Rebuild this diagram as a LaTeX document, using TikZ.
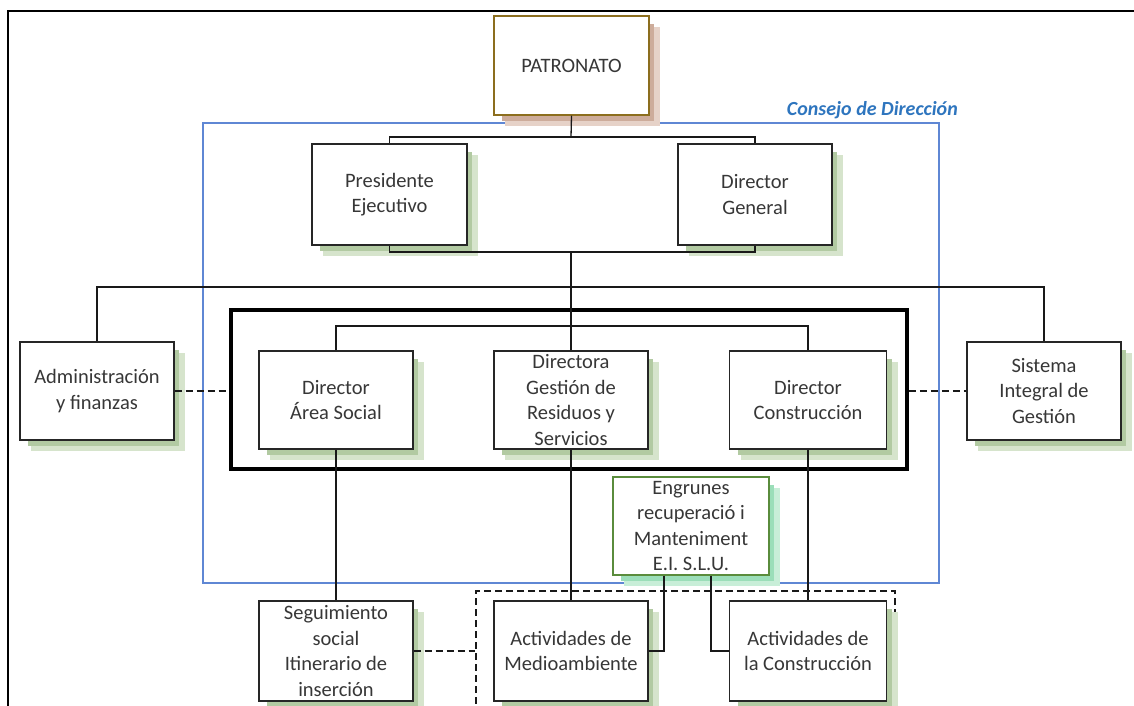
\documentclass[tikz,border=0pt]{standalone}
\usepackage{fontspec}
\setmainfont{Carlito}
\usetikzlibrary{shadows}
\definecolor{txt}{RGB}{55,55,55}
\definecolor{shg}{RGB}{178,202,162}
\definecolor{shgl}{RGB}{214,228,204}
\definecolor{shb}{RGB}{205,172,155}
\definecolor{shbl}{RGB}{230,210,200}
\definecolor{sht}{RGB}{155,222,185}
\definecolor{shtl}{RGB}{200,238,216}
\definecolor{cblue}{RGB}{95,135,212}
\definecolor{lblue}{RGB}{46,117,190}
\definecolor{olivebr}{RGB}{140,110,30}
\definecolor{egreen}{RGB}{90,140,60}
\begin{document}
\begin{tikzpicture}[x=1pt,y=-1pt,
  font=\fontsize{20.5}{25.5}\selectfont,
  box/.style={draw=black!85, line width=1.3pt, fill=white, text=txt, align=center,
    inner sep=0pt, minimum width=154pt, minimum height=98pt},
  gsh/.style={general shadow={fill=#1l, shadow xshift=11pt, shadow yshift=-11pt},
    general shadow={fill=#1, shadow xshift=7pt, shadow yshift=-7pt, shadow scale=0.98}},
  conn/.style={draw=black!90, line width=1.3pt},
  dconn/.style={draw=black!90, line width=1.3pt, dash pattern=on 7pt off 4pt},
]
\useasboundingbox (0,0) rectangle (1134,706);
% outer frame
\draw[line width=1.3pt, black] (8,11) rectangle (1160,780);
% Consejo de Direccion frame
\draw[cblue, line width=1.3pt] (203,123) rectangle (939,583);
\node[anchor=east, text=lblue, inner sep=0pt, font=\fontsize{20}{24}\selectfont\bfseries\itshape] (cdlabel) at (958,110) {Consejo de Dirección};
% thick group frame
\node[draw=black, line width=3.5pt, minimum width=676pt, minimum height=159pt, inner sep=0pt] (grp) at (569,389.5) {};
% dashed frame
\node[draw=black!90, line width=1.3pt, dash pattern=on 7pt off 4pt, minimum width=419pt, minimum height=200pt, inner sep=0pt] (dbox) at (685.5,691) {};

% nodes
\node[box, draw=olivebr, gsh=shb, minimum width=155pt, minimum height=99pt] (pat) at (571.5,65.5) {PATRONATO};
\node[box, gsh=shg, minimum width=155pt, minimum height=101pt] (pres) at (389.5,194.5) {Presidente\\Ejecutivo};
\node[box, gsh=shg, minimum height=101pt] (dg) at (755,194.5) {Director\\General};
\node[box, gsh=shg] (admin) at (97,391) {Administración\\y finanzas};
\node[box, gsh=shg] (sig) at (1044,391) {Sistema\\Integral de\\Gestión};
\node[box, gsh=shg] (das) at (336,400) {Director\\Área Social};
\node[box, gsh=shg] (dira) at (571,400) {Directora\\Gestión de\\Residuos y\\Servicios};
\node[box, gsh=shg, minimum width=157pt] (dcon) at (808,400) {Director\\Construcción};
\node[box, draw=egreen, line width=1.2pt, gsh=sht, minimum width=156pt] (eng) at (691,526) {Engrunes\\recuperació i\\Manteniment\\E.I. S.L.U.};
\node[box, gsh=shg, minimum height=100pt] (seg) at (336,651) {Seguimiento\\social\\Itinerario de\\inserción};
\node[box, gsh=shg, minimum height=100pt] (med) at (571,651) {Actividades de\\Medioambiente};
\node[box, gsh=shg, minimum width=157pt, minimum height=100pt] (con) at (808,651) {Actividades de\\la Construcción};

% junctions
\coordinate (j1) at (571,137);
\coordinate (j2) at (571,252);
\coordinate (j3) at (571,287);
\coordinate (j4) at (571,326);

% connectors
\draw[conn] (pat.south) -- (j1);
\draw[conn] (pres.north) |- (j1) -| (dg.north);
\draw[conn] (pres.south) |- (j2) -| (dg.south);
\draw[conn] (j2) -- (dira.north);
\draw[conn] (admin.north) |- (j3) -| (sig.north);
\draw[conn] (das.north) |- (j4) -| (dcon.north);
\draw[conn] (das.south) -- (seg.north);
\draw[conn] (dira.south) -- (med.north);
\draw[conn] (dcon.south) -- (con.north);
\draw[conn] ([xshift=-27pt]eng.south) |- (med.east);
\draw[conn] ([xshift=20pt]eng.south) |- (con.west);
\draw[dconn] (admin.east) -- (admin.east -| grp.west);
\draw[dconn] (grp.east |- sig.west) -- (sig.west);
\draw[dconn] (seg.east) -- (seg.east -| dbox.west);
\end{tikzpicture}
\end{document}
